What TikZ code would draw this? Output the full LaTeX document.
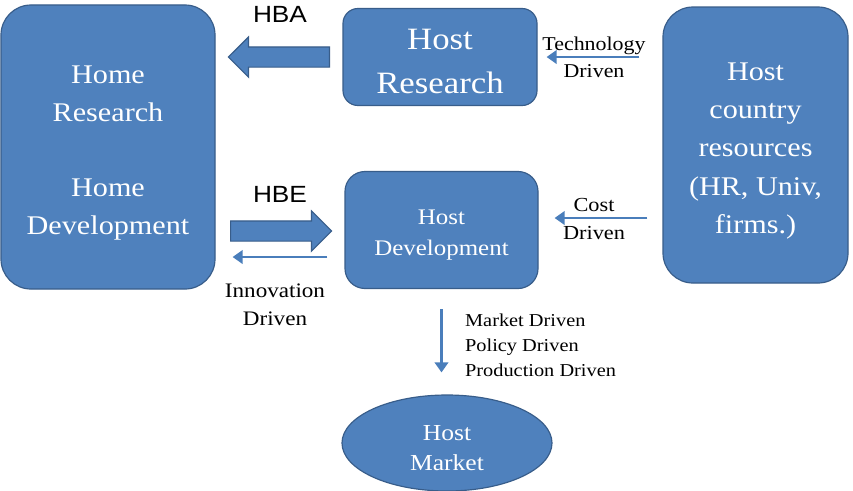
\documentclass[tikz,border=0pt]{standalone}
\usepackage{fontspec}
\setmainfont[FakeStretch=1.12]{Liberation Serif}
\newfontfamily\hbfont[FakeStretch=1.12]{Liberation Sans}
\usepackage{tikz}
\usetikzlibrary{positioning, arrows.meta, shapes.geometric, shapes.arrows}
\definecolor{boxc}{RGB}{79,129,189}
\definecolor{edgec}{RGB}{56,93,138}
\definecolor{linec}{RGB}{74,126,187}
\newcommand\tpad[1]{\rule{0pt}{#1}}

\tikzset{
  bluebox/.style={draw=edgec, fill=boxc, line width=1pt, rounded corners=#1,
    text=white, align=center, inner sep=0pt},
  blockarrow/.style={single arrow, draw=edgec, fill=boxc, line width=1pt,
    minimum height=3.03cm, inner xsep=0pt, inner ysep=0.285cm,
    single arrow head extend=0.3cm, single arrow tip angle=90},
  thinarrow/.style={linec, line width=2.5pt, -{Triangle[length=0.3cm, width=0.4cm]}},
  lbl/.style={align=center, text=black},
}

\begin{document}
\begin{tikzpicture}[x=0.03cm, y=-0.03cm]
  \path[use as bounding box, fill=white] (0,0) rectangle (853,490);
  % boxes
  \node[bluebox=0.9cm, minimum width=6.42cm, minimum height=8.52cm,
    font=\fontsize{23}{32.3}\selectfont] (home) at (108,147)
    {\tpad{1.1em}Home\\Research\\[32.3pt]Home\\Development};
  \node[bluebox=0.45cm, minimum width=5.82cm, minimum height=2.91cm,
    font=\fontsize{26.5}{37.5}\selectfont] (hres) at (440,57) {\tpad{0.95em}Host\\Research};
  \node[bluebox=0.9cm, minimum width=5.55cm, minimum height=8.28cm,
    font=\fontsize{23}{32.6}\selectfont] (hcr) at (755.5,145)
    {\tpad{1.1em}Host\\country\\resources\\(HR, Univ,\\firms.)};
  \node[bluebox=0.6cm, minimum width=5.79cm, minimum height=3.51cm,
    font=\fontsize{19}{26.5}\selectfont] (hdev) at (441.5,230) {\tpad{1.15em}Host\\Development};
  \node[ellipse, draw=edgec, fill=boxc, line width=1pt, text=white, align=center,
    inner sep=0pt, minimum width=6.3cm, minimum height=2.88cm,
    font=\fontsize{19.5}{25.6}\selectfont] (hmkt) at (447,443) {\tpad{1.08em}Host\\Market};
  % HBA / HBE block arrows
  \node[blockarrow, shape border rotate=180, anchor=tail] (hba) at (330,57) {};
  \node[blockarrow, anchor=tail] (hbe) at (230,231) {};
  \node[font=\hbfont\fontsize{20}{24}\selectfont] (hbalbl) at (280,14) {HBA};
  \node[font=\hbfont\fontsize{20}{24}\selectfont] (hbelbl) at (280,194) {HBE};
  % thin arrows
  \coordinate (costend) at ([yshift=0.36cm]hdev.east);
  \coordinate (innstart) at ([yshift=-0.81cm]hdev.west);
  \draw[thinarrow, shorten <=0.69cm, shorten >=0.27cm] (hres.east -| hcr.west) -- (hres.east);
  \draw[thinarrow, shorten <=0.45cm, shorten >=0.48cm] (costend -| hcr.west) -- (costend);
  \draw[thinarrow, shorten <=0.51cm, shorten >=0.51cm] (innstart) -- (innstart -| home.east);
  \draw[thinarrow, shorten <=0.6cm, shorten >=0.66cm] (hdev.south) -- (hdev.south |- hmkt.north);
  % labels
  \node[lbl, font=\fontsize{16.7}{23}\selectfont] (techlbl) at (594,57) {Technology\\Driven};
  \node[lbl, font=\fontsize{17}{23.5}\selectfont] (costlbl) at (594,219) {Cost\\Driven};
  \node[lbl, font=\fontsize{17.6}{24}\selectfont] (innlbl) at (275,305) {Innovation\\Driven};
  \node[lbl, align=left, anchor=west, font=\fontsize{15.5}{21.3}\selectfont] (mktlbl)
    at (461,345) {Market Driven\\Policy Driven\\Production Driven};
\end{tikzpicture}
\end{document}
